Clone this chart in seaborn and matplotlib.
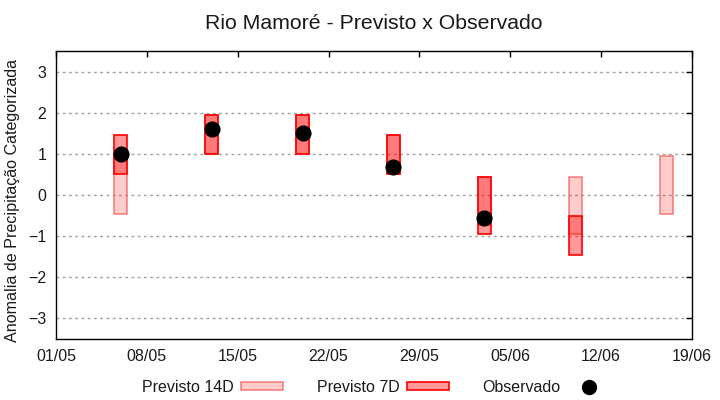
import pandas as pd
import numpy as np
import seaborn as sns
import matplotlib.pyplot as plt
import matplotlib.dates as mdates
from matplotlib.patches import Patch
from matplotlib.lines import Line2D

# semanas de previsao
datas = ['2023-05-06', '2023-05-13', '2023-05-20', '2023-05-27',
         '2023-06-03', '2023-06-10', '2023-06-17']
# Previsto 14D (faixa inferior / superior)
p14_min = [-0.45, 1.0, 1.0, 0.5, -0.72, -0.95, -0.45]
p14_max = [1.0, 1.95, 1.95, 1.45, 0.43, 0.43, 0.95]
# Previsto 7D
p7_min = [0.5, 1.0, 1.0, 0.5, -0.95, -1.45, np.nan]
p7_max = [1.45, 1.95, 1.95, 1.45, 0.43, -0.52, np.nan]
# Observado
obs = [1.0, 1.6, 1.5, 0.68, -0.55, np.nan, np.nan]

df = pd.DataFrame({'data': pd.to_datetime(datas), 'p14_min': p14_min, 'p14_max': p14_max,
                   'p7_min': p7_min, 'p7_max': p7_max, 'obs': obs})

sns.set_style('white')
plt.rcParams['font.family'] = ['Liberation Sans', 'DejaVu Sans']
plt.rcParams['text.color'] = '#1a1a1a'
plt.rcParams['axes.labelcolor'] = '#1a1a1a'

fig = plt.figure(figsize=(7.2, 4), dpi=100)
ax = fig.add_axes([0.0778, 0.1525, 0.8833, 0.72])

ax.bar(df['data'], df['p14_max'] - df['p14_min'], bottom=df['p14_min'], width=1.0,
       facecolor=(1, 0, 0, 0.2), edgecolor=(0.95, 0.4, 0.4, 0.8), linewidth=1.2, zorder=2)
m7 = df['p7_min'].notna()
ax.bar(df.loc[m7, 'data'], (df['p7_max'] - df['p7_min'])[m7], bottom=df.loc[m7, 'p7_min'], width=1.0,
       facecolor=(1, 0, 0, 0.4), edgecolor='red', linewidth=1.2, zorder=3)
sns.scatterplot(data=df.dropna(subset=['obs']), x='data', y='obs', color='black', s=135,
                edgecolor='black', linewidth=0, zorder=4, ax=ax)

ax.set_xlim(pd.Timestamp('2023-05-01'), pd.Timestamp('2023-06-19'))
ax.set_ylim(-3.5, 3.5)
ax.set_xticks(pd.date_range('2023-05-01', '2023-06-19', freq='7D'))
ax.xaxis.set_major_formatter(mdates.DateFormatter('%d/%m'))
ax.set_yticks([-3, -2, -1, 0, 1, 2, 3])
ax.yaxis.grid(True, linestyle=(0, (2, 2.5)), color='#a0a0a0', linewidth=1)
ax.xaxis.grid(False)
ax.tick_params(direction='in', length=4, width=1, top=True, right=True, labelsize=11.5,
               colors='black', labelcolor='#1a1a1a', pad=7)
for s in ax.spines.values():
    s.set_color('black')
    s.set_linewidth(1)

ax.set_xlabel('')
ax.set_ylabel('Anomalia de Precipitação Categorizada', fontsize=11.6, labelpad=6)
ax.yaxis.set_label_coords(-0.056, 0.48)
ax.set_title('Rio Mamoré - Previsto x Observado', fontsize=15.3, pad=16)

handles = [Patch(facecolor=(1, 0, 0, 0.2), edgecolor=(0.95, 0.4, 0.4, 0.8), linewidth=1.2),
           Patch(facecolor=(1, 0, 0, 0.4), edgecolor='red', linewidth=1.2),
           Line2D([], [], color='black', marker='o', linestyle='none', markersize=10)]
fig.legend(handles, ['Previsto 14D', 'Previsto 7D', 'Observado'], loc='center',
           bbox_to_anchor=(0.522, 0.032), ncol=3, frameon=False, markerfirst=False,
           fontsize=11.5, handlelength=2.6, handleheight=0.45, handletextpad=0.5,
           columnspacing=2.1)

plt.savefig('out.png', dpi=100)
